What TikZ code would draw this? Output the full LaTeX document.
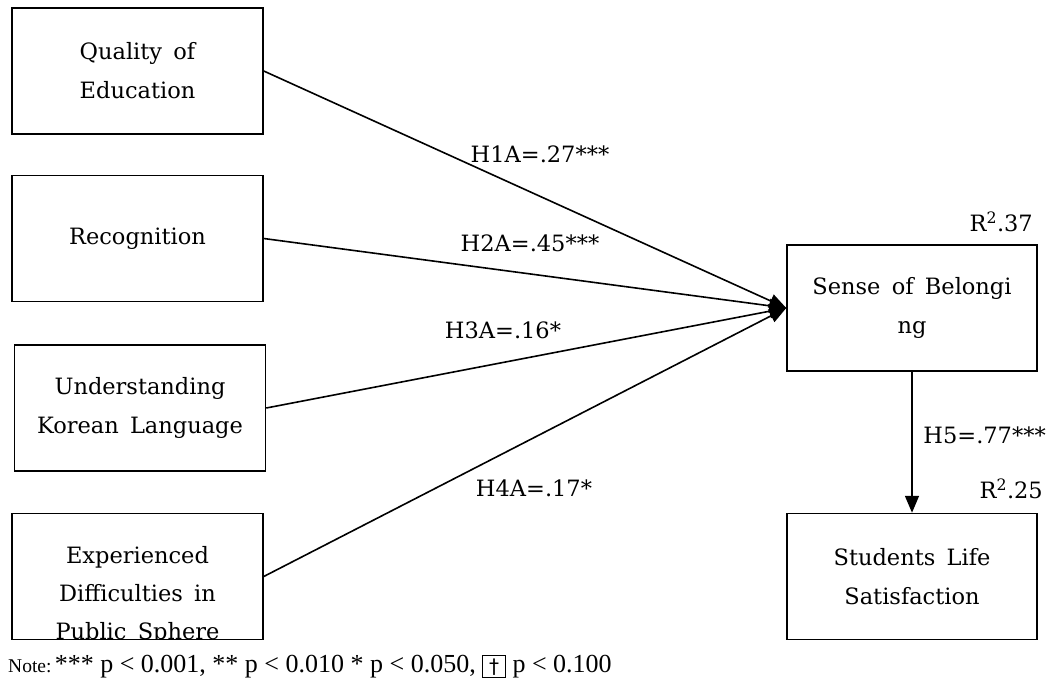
\documentclass[tikz,border=0pt]{standalone}
\usepackage{fontspec}
\setmainfont{DejaVu Serif}
\newfontfamily\notefont{Liberation Serif}
\newfontfamily\symfont{DejaVu Sans}
\usetikzlibrary{arrows.meta}
\newcommand{\ws}{\hspace{0.5em}}
\begin{document}
\begin{tikzpicture}[x=1pt,y=-1pt,
  box/.style={draw,line width=1.5pt,minimum width=251pt,minimum height=126pt,inner sep=0pt,align=center,font=\fontsize{22.5}{39}\selectfont},
  lbl/.style={font=\fontsize{22.5}{26}\selectfont,inner sep=0pt},
  arr/.style={line width=1.6pt,-{Triangle[length=17pt,width=14pt]}}]
\useasboundingbox (0,0) rectangle (1049,681);
\node[box] (q) at (137.5,71) {Quality\ws of\\ Education};
\node[box] (r) at (137.5,238.5) {Recognition};
\node[box] (u) at (140,408) {Understanding\\ Korean\ws Language};
\node[box] (e) at (137.5,576.5) {};
\begin{scope}
\clip (12,514) rectangle (263,639);
\node[align=center,font=\fontsize{22.5}{38}\selectfont,inner sep=0pt] (et) at (137.5,595) {Experienced\\ Difficulties\ws in\\ Public\ws Sphere};
\end{scope}
\node[box,minimum width=250pt] (s) at (912,308) {Sense\ws of\ws Belongi\\ ng};
\node[box,minimum width=250pt] (l) at (912,576.5) {Students\ws Life\\ Satisfaction};
\draw[arr] (q.east) -- (s.west);
\draw[arr] (r.east) -- (s.west);
\draw[arr] (u.east) -- (s.west);
\draw[arr] (e.east) -- (s.west);
\draw[arr] (s.south) -- (l.north);
\node[lbl] (h1) at (540,154) {H1A=.27***};
\node[lbl] (h2) at (530,243) {H2A=.45***};
\node[lbl] (h3) at (503,330) {H3A=.16*};
\node[lbl] (h4) at (534,488) {H4A=.17*};
\node[lbl,anchor=east] (h5) at (1046,435) {H5=.77***};
\node[lbl,anchor=east] (r2) at (1043,489) {R\textsuperscript{2}.25};
\node[lbl,anchor=east] (r1) at (1033,222) {R\textsuperscript{2}.37};
\node[anchor=base west,inner sep=0pt,font=\notefont] (note) at (8,672) {{\fontsize{19.5}{22}\selectfont Note:} {\fontsize{26}{28}\selectfont *** p {\textless} 0.001, ** p {\textless} 0.010 * p {\textless} 0.050, \raisebox{-1pt}{\setlength{\fboxsep}{2.5pt}\setlength{\fboxrule}{1pt}\fbox{\symfont\fontsize{20}{20}\selectfont \,†\,}} p {\textless} 0.100}};
\end{tikzpicture}
\end{document}
